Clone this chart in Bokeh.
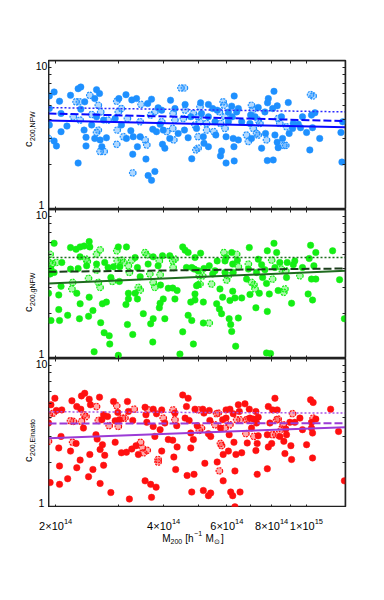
import math
from bokeh.plotting import figure
from bokeh.layouts import column, row
from bokeh.models import FixedTicker, LogAxis, Range1d
from bokeh.core.properties import value
from bokeh.embed import file_html
from bokeh.resources import INLINE

# ---------------- data (mass in units of 1e14 h^-1 Msun, concentration) ----------------
MASS_UNIT = 1e14
x_range_mass = [1.91, 12.85]
y_range_c = [1, 10]
x_major = [2, 4, 6, 8, 10]
x_minor = [3, 5, 7, 9]
x_tick_main = ["2×10", "4×10", "6×10", "8×10", "1×10"]
x_tick_sup = ["14", "14", "14", "14", "15"]
y_major = [1, 10]
y_minor = [2, 3, 4, 5, 6, 7, 8, 9]
y_tick_labels = ["1", "10"]

fit_mass = [1.91, 12.85]
nfw_fit_solid = [3.96, 3.56]
nfw_fit_dashed = [4.41, 3.92]
nfw_fit_dotted = [4.83, 4.52]
gnfw_fit_solid = [3.19, 3.88]
gnfw_fit_dashed = [3.82, 4.02]
gnfw_fit_dotted = [4.76, 4.76]
ein_fit_solid = [2.92, 3.46]
ein_fit_dashed = [3.66, 3.68]
ein_fit_dotted = [4.39, 4.30]

nfw_filled = [
    (1.92, 5.78), (1.98, 6.15), (2.05, 5.33), (1.92, 4.76), (2.07, 4.41), (1.92, 3.69), (2.07, 3.33),
    (1.98, 2.88), (2.01, 2.67), (2.15, 3.63), (2.20, 5.84), (2.31, 6.47), (2.35, 6.64), (2.35, 4.71),
    (2.41, 5.28), (2.40, 3.41), (2.43, 3.05), (2.43, 2.67), (2.31, 2.05), (2.52, 3.69), (2.57, 5.55),
    (2.60, 6.37), (2.65, 6.00), (2.60, 4.19), (2.57, 3.00), (2.66, 2.93), (2.69, 2.64), (2.77, 3.03),
    (2.72, 3.98), (2.93, 4.08), (3.00, 5.55), (3.05, 3.69), (3.14, 5.90), (3.15, 3.00), (3.26, 5.44),
    (3.24, 3.38), (3.29, 3.08), (3.28, 2.35), (3.36, 5.55), (3.38, 2.64), (3.44, 3.08), (3.57, 2.18),
    (3.61, 5.14), (3.70, 5.50), (3.73, 3.45), (3.82, 3.33), (3.62, 1.69), (3.70, 1.57), (3.78, 1.80),
    (3.86, 4.81), (3.95, 4.64), (3.91, 3.73), (3.97, 2.74), (4.03, 2.58), (3.99, 3.41), (4.18, 5.41),
    (4.16, 3.00), (4.30, 4.76), (4.39, 3.24), (4.59, 5.07), (4.57, 3.41), (4.68, 3.03), (4.76, 4.19),
    (4.94, 3.50), (4.79, 2.19),
    (5.10, 4.41), (5.07, 5.20), (5.16, 3.08), (5.18, 2.78), (5.33, 5.07), (5.33, 2.64), (5.33, 4.19),
    (5.48, 4.76), (5.56, 3.88), (5.59, 3.16), (5.64, 4.64), (5.80, 2.47), (5.76, 2.29), (5.97, 3.08),
    (5.97, 2.05), (6.06, 4.52), (6.06, 3.88), (6.19, 4.94), (6.21, 4.19), (6.25, 3.00), (6.29, 5.78),
    (6.28, 2.64), (6.29, 2.12), (6.39, 4.52), (6.46, 4.76), (6.46, 2.93), (6.60, 3.88), (6.96, 3.78),
    (6.99, 4.30), (7.03, 3.00), (7.19, 4.19), (7.34, 4.84), (7.50, 2.58), (7.66, 4.52), (7.69, 3.24),
    (7.79, 5.20), (7.83, 5.55), (7.78, 2.13), (8.05, 4.76), (8.12, 6.21), (8.08, 2.15), (8.17, 3.16),
    (8.29, 4.96), (8.29, 2.83), (8.34, 2.60), (8.52, 4.19), (8.58, 3.00), (8.90, 5.22), (8.95, 3.24),
    (9.19, 3.78), (9.15, 3.50), (9.49, 3.74), (9.63, 3.54), (9.75, 4.19), (10.01, 3.29), (10.22, 2.51),
    (10.33, 4.30), (10.40, 3.54), (10.56, 4.46), (10.89, 3.00), (12.48, 3.29), (12.56, 2.08), (12.62, 3.88),
]
nfw_dithered = [
    (1.91, 3.00), (2.24, 4.19), (2.28, 5.28), (2.33, 5.28), (2.34, 3.98), (2.49, 5.84), (2.52, 4.34),
    (2.63, 5.01), (2.63, 3.41), (2.60, 3.29), (2.66, 2.45), (2.73, 2.45), (2.67, 4.52), (2.80, 3.98),
    (2.96, 5.33), (2.99, 4.52), (2.97, 3.41), (2.96, 2.74), (3.09, 3.08), (3.05, 4.76), (3.17, 4.08),
    (3.28, 1.76), (3.46, 5.07), (3.44, 3.88), (3.55, 2.93), (3.59, 2.71), (3.68, 4.30), (3.78, 4.52),
    (3.95, 3.88), (4.08, 3.33), (4.25, 4.41), (4.24, 3.50), (4.30, 3.98), (4.27, 2.93), (4.47, 6.54),
    (4.57, 6.54), (4.54, 4.08), (4.59, 4.64), (4.84, 4.41), (4.89, 3.69), (4.99, 3.08), (4.92, 2.51),
    (4.99, 2.58),
    (5.05, 4.89), (4.99, 4.19), (5.05, 3.88), (5.27, 3.78), (5.27, 3.41), (5.52, 3.33), (5.72, 4.52),
    (5.76, 3.78), (5.86, 5.28), (5.89, 5.01), (5.93, 4.19), (5.93, 3.50), (6.81, 3.16), (6.89, 2.86),
    (7.03, 5.01), (7.08, 4.64), (7.11, 3.50), (7.26, 3.24), (7.34, 3.16), (7.34, 3.98), (7.42, 3.78),
    (7.74, 2.93), (8.34, 4.08), (8.43, 3.78), (8.65, 2.69), (8.76, 2.69), (8.80, 3.59), (10.27, 5.90),
    (10.44, 5.78),
]

gnfw_filled = [
    (1.98, 5.93), (1.94, 3.98), (1.93, 3.69), (1.98, 3.78), (2.08, 4.41), (2.07, 3.05), (1.91, 2.74),
    (2.04, 2.67), (2.04, 2.13), (1.94, 1.80), (2.05, 1.80), (2.16, 1.95), (2.20, 5.55), (2.28, 5.41),
    (2.34, 5.61), (2.40, 5.69), (2.48, 6.09), (2.49, 5.61), (2.34, 4.81), (2.20, 3.98), (2.31, 4.02),
    (2.29, 2.74), (2.34, 2.33), (2.33, 1.85), (2.44, 4.19), (2.48, 2.58), (2.47, 1.92), (2.54, 2.10),
    (2.56, 1.11), (2.60, 4.30), (2.70, 2.33), (2.77, 2.39), (2.67, 1.74), (2.73, 1.49), (2.82, 1.42),
    (2.83, 1.25), (2.74, 4.41), (2.80, 4.08), (2.85, 3.50), (2.90, 4.13), (2.99, 5.61), (3.02, 4.13),
    (3.01, 3.29), (3.15, 5.61), (3.19, 2.74), (3.19, 2.51), (3.14, 2.30), (2.99, 1.05), (3.28, 1.45),
    (3.17, 1.69), (3.33, 4.76), (3.38, 4.08), (3.33, 2.74), (3.38, 2.51), (3.44, 3.54), (3.51, 2.00),
    (3.62, 4.30), (3.74, 4.81), (3.86, 4.19), (3.92, 3.11), (3.97, 4.89), (3.99, 2.51), (3.91, 2.35),
    (3.89, 2.19), (3.74, 1.85), (3.68, 1.71), (3.73, 1.29), (4.03, 1.85), (4.16, 4.89), (4.12, 2.96),
    (4.24, 2.97), (4.36, 2.86), (4.30, 2.51), (4.44, 1.07), (4.52, 5.61), (4.59, 5.33), (4.68, 5.14),
    (4.63, 4.08), (4.79, 4.08), (4.87, 3.98), (4.89, 4.76), (4.52, 1.51), (4.68, 1.95), (4.79, 1.80),
    (4.84, 1.25), (4.89, 2.71), (4.89, 2.47), (4.76, 2.39), (4.94, 3.08),
    (5.07, 5.09), (4.99, 3.88), (5.18, 4.02), (4.99, 3.13), (5.16, 2.39), (5.16, 1.73), (5.36, 4.19),
    (5.48, 3.69), (5.56, 3.88), (5.64, 4.52), (5.62, 2.33), (5.72, 2.15), (5.80, 2.00), (5.74, 2.93),
    (5.84, 2.58), (5.93, 4.52), (5.93, 3.78), (5.97, 4.76), (6.09, 1.85), (6.15, 1.69), (6.19, 1.52),
    (6.12, 2.45), (6.19, 5.14), (6.23, 4.30), (6.23, 2.83), (6.25, 3.78), (6.32, 2.55), (6.35, 1.21),
    (6.42, 4.57), (6.46, 1.87), (6.60, 2.55), (6.81, 3.41), (6.89, 3.98), (6.93, 5.55), (6.96, 2.69),
    (7.23, 2.19), (7.26, 3.78), (7.34, 4.64), (7.39, 2.74), (7.50, 4.26), (7.55, 3.50), (7.66, 3.94),
    (7.74, 3.19), (7.78, 5.28), (7.88, 2.71), (7.78, 2.07), (7.74, 1.09), (7.94, 1.08), (8.12, 5.93),
    (8.17, 4.08), (8.26, 5.14), (8.34, 2.86), (8.43, 4.41), (8.80, 3.50), (8.84, 4.41), (9.09, 2.35),
    (9.19, 4.26), (9.28, 4.52), (9.75, 4.08), (10.11, 2.71), (10.18, 4.69), (10.27, 5.75), (10.33, 3.41),
    (10.40, 2.47), (10.49, 4.19), (10.62, 5.14), (10.62, 3.41), (11.83, 5.28), (12.37, 3.38), (12.76, 1.85),
]
gnfw_dithered = [
    (1.93, 5.01), (1.92, 4.41), (1.96, 4.34), (2.01, 4.41), (2.23, 3.24), (2.22, 2.93), (2.43, 4.64),
    (2.45, 4.48), (2.47, 3.45), (2.60, 5.01), (2.66, 5.36), (2.63, 3.24), (2.66, 3.00), (2.60, 3.92),
    (2.88, 3.29), (2.96, 5.28), (2.97, 4.52), (3.05, 4.57), (3.10, 4.41), (3.19, 4.19), (3.21, 3.78),
    (3.26, 4.57), (3.40, 3.00), (3.44, 2.88), (3.55, 5.14), (3.59, 4.96), (3.66, 3.69), (3.74, 3.24),
    (3.78, 3.00), (3.89, 4.52), (3.91, 3.65), (4.24, 4.52), (4.30, 4.64), (4.25, 4.08),
    (5.03, 3.59), (5.14, 3.59), (5.05, 3.16), (5.36, 1.73), (5.44, 3.16), (5.89, 5.14), (5.99, 3.36),
    (6.06, 3.59), (6.39, 5.01), (6.46, 4.13), (6.89, 4.30), (7.03, 3.24), (7.14, 3.13), (7.19, 2.93),
    (8.00, 4.57), (8.05, 3.41), (8.52, 3.98), (8.65, 2.78), (8.71, 2.93), (8.76, 3.88), (9.59, 3.59),
]

ein_filled = [
    (1.94, 4.89), (1.99, 5.41), (2.01, 4.48), (2.08, 4.52), (1.91, 3.69), (2.07, 3.00), (2.04, 2.51),
    (2.05, 1.90), (1.93, 1.47), (2.05, 1.43), (2.16, 1.56), (2.22, 5.20), (2.20, 2.39), (2.29, 4.76),
    (2.28, 2.69), (2.29, 1.85), (2.34, 2.08), (2.35, 4.57), (2.36, 5.61), (2.41, 5.84), (2.39, 3.41),
    (2.48, 5.33), (2.50, 4.89), (2.49, 2.27), (2.47, 1.61), (2.54, 1.80), (2.65, 5.50), (2.59, 3.08),
    (2.61, 2.88), (2.66, 2.45), (2.70, 2.64), (2.66, 1.45), (2.72, 1.92), (2.74, 2.24), (2.69, 3.88),
    (2.72, 4.19), (2.79, 4.08), (2.85, 1.26), (2.90, 5.14), (2.93, 3.82), (2.93, 2.74), (2.98, 4.34),
    (3.01, 3.88), (3.05, 2.33), (3.17, 5.14), (3.19, 4.41), (3.21, 1.14), (3.15, 2.35), (3.28, 3.84),
    (3.26, 2.47), (3.35, 2.60), (3.40, 2.27), (3.55, 4.71), (3.57, 4.19), (3.59, 3.73), (3.55, 1.51),
    (3.68, 1.43), (3.70, 1.17), (3.74, 4.57), (3.74, 3.50), (3.78, 3.00), (3.82, 4.26), (3.91, 3.33),
    (3.95, 4.52), (3.95, 2.39), (4.03, 3.69), (3.81, 1.37), (4.12, 2.86), (4.24, 2.83), (4.30, 4.30),
    (4.35, 3.54), (4.36, 2.55), (4.27, 2.18), (4.32, 1.80), (4.52, 5.69), (4.63, 4.76), (4.68, 5.41),
    (4.59, 3.98), (4.71, 3.84), (4.76, 2.51), (4.84, 2.86), (4.76, 3.16), (4.65, 1.64), (4.86, 1.67),
    (4.79, 1.27), (4.89, 4.57), (4.96, 3.54),
    (5.14, 4.57), (5.18, 4.30), (5.21, 1.98), (5.36, 4.48), (5.33, 3.13), (5.38, 3.84), (5.41, 3.00),
    (5.16, 1.30), (5.33, 1.20), (5.41, 1.25), (5.64, 2.02), (5.76, 3.41), (5.84, 3.88), (5.86, 2.27),
    (5.86, 1.51), (5.97, 4.52), (5.97, 3.98), (6.06, 2.39), (6.12, 4.57), (6.09, 3.08), (6.15, 1.27),
    (6.23, 1.20), (6.25, 4.26), (6.28, 2.74), (6.32, 1.76), (6.32, 1.01), (6.36, 2.27), (6.46, 4.89),
    (6.50, 4.41), (6.53, 1.27), (6.60, 2.33), (6.74, 4.96), (6.84, 2.71), (6.93, 4.57), (6.96, 3.98),
    (7.03, 3.41), (7.11, 3.92), (7.23, 4.41), (7.26, 3.69), (7.23, 2.41), (7.29, 2.69), (7.34, 3.03),
    (7.29, 1.67), (7.34, 4.04), (7.78, 1.82), (7.83, 4.76), (7.83, 2.55), (7.78, 3.08), (7.91, 3.69),
    (8.00, 2.69), (8.05, 4.52), (8.17, 5.41), (8.29, 4.52), (8.43, 3.00), (8.65, 2.78), (8.71, 2.30),
    (8.76, 3.36), (8.80, 3.08), (8.99, 3.73), (9.05, 2.60), (9.09, 2.10), (9.28, 3.73), (9.59, 3.98),
    (9.75, 3.33), (10.01, 2.64), (10.27, 5.28), (10.44, 5.07), (10.33, 3.73), (10.33, 3.41), (10.40, 3.16),
    (10.40, 2.15), (10.62, 3.92), (11.68, 4.57), (12.29, 3.24), (12.76, 1.51),
]
ein_dithered = [
    (1.92, 4.19), (1.97, 4.30), (1.91, 2.78), (2.20, 3.82), (2.24, 3.78), (2.23, 2.74), (2.40, 4.19),
    (2.43, 4.08), (2.36, 3.78), (2.60, 4.76), (2.63, 3.84), (2.82, 3.54), (2.96, 4.81), (2.99, 3.50),
    (3.07, 3.98), (3.12, 3.98), (3.31, 4.57), (3.45, 2.74), (3.49, 2.51), (3.52, 2.33), (3.60, 2.42),
    (3.62, 4.52), (3.86, 2.10), (3.86, 2.02), (3.99, 3.98), (4.25, 4.52), (4.30, 3.88),
    (4.99, 4.52), (5.10, 3.41), (5.03, 3.29), (5.56, 3.59), (5.62, 4.26), (5.72, 1.76), (5.68, 4.30),
    (5.76, 2.69), (5.80, 2.60), (5.93, 3.41), (6.12, 3.59), (6.39, 3.88), (6.53, 3.88), (6.78, 3.13),
    (6.81, 3.88), (6.89, 3.92), (7.14, 3.00), (8.05, 3.08), (8.22, 3.08), (8.26, 3.88), (8.34, 3.92),
    (8.52, 3.36), (8.62, 3.59), (9.15, 4.26), (10.44, 3.98),
]

# ---------------- styling / layout ----------------
FONT = "Liberation Sans"
LEFT = 48          # width of the label strip left of each panel
FRAME_W = 297
RIGHT = 30
FRAME_H = 149
TOP1 = 60
BOTTOM_H = 46
AXIS_COLOR = "#222222"

# Helvetica/Arial-style advance widths (em) for placing sub/superscript pieces
CW = {"0": .556, "1": .556, "2": .556, "3": .556, "4": .556, "5": .556, "6": .556, "7": .556,
      "8": .556, "9": .556, "×": .584, ",": .278, " ": .278, "[": .278, "]": .278, "M": .833,
      "h": .556, "−": .584, "c": .5, "N": .722, "F": .611, "W": .944, "g": .556, "E": .667,
      "i": .222, "n": .556, "a": .556, "s": .5, "t": .278, "o": .556, "⊙": .84}


def tw(s, size):
    return sum(CW.get(ch, .556) for ch in s) * size


def blank_fig(width, height, xr, yr, top=0, x_log=False):
    f = figure(width=width, height=height, x_range=xr, y_range=yr,
               x_axis_type="log" if x_log else "linear",
               output_backend="svg", toolbar_location=None,
               min_border_left=0, min_border_right=0, min_border_top=top, min_border_bottom=0,
               outline_line_color=None, background_fill_color="white", border_fill_color="white")
    f.axis.visible = False
    f.grid.visible = False
    f.title.visible = False
    return f


def txt(f, x, y, text, size, align="left", baseline="alphabetic", angle=0.0, xo=0.0):
    f.text(x=[x], y=[y], text=[text], angle=angle, text_align=align, text_baseline=baseline,
           x_offset=xo, text_font=value(FONT), text_font_size=value(f"{size}px"), text_color="black")


def style_axis(ax, ticks, minor, tin, minin, loc):
    ax.fixed_location = loc
    ax.major_label_text_color = None
    ax.ticker = FixedTicker(ticks=ticks, minor_ticks=minor)
    ax.major_tick_in = tin
    ax.major_tick_out = 0
    ax.minor_tick_in = minin
    ax.minor_tick_out = 0
    ax.axis_line_color = AXIS_COLOR
    ax.axis_line_width = 1.5
    ax.major_tick_line_color = AXIS_COLOR
    ax.minor_tick_line_color = AXIS_COLOR


def make_panel(filled, dithered, fits, pcolor, lcolors, top):
    xlo, xhi = [m * MASS_UNIT for m in x_range_mass]
    p = figure(width=FRAME_W + RIGHT, height=FRAME_H + top, x_axis_type="log", y_axis_type="log",
               x_range=Range1d(xlo, xhi), y_range=Range1d(*y_range_c),
               output_backend="svg", toolbar_location=None,
               min_border_left=0, min_border_right=RIGHT,
               min_border_top=top, min_border_bottom=0,
               background_fill_color="white", border_fill_color="white",
               outline_line_color=AXIS_COLOR, outline_line_width=1.5)
    p.title.visible = False
    p.xgrid.visible = False
    p.ygrid.visible = False
    xt = [v * MASS_UNIT for v in x_major]
    xm = [v * MASS_UNIT for v in x_minor]
    top_ax = LogAxis()
    right_ax = LogAxis()
    p.add_layout(top_ax, "above")
    p.add_layout(right_ax, "right")
    style_axis(p.below[0], xt, xm, 3, 3, y_range_c[0])
    style_axis(top_ax, xt, xm, 3, 3, y_range_c[1])
    style_axis(p.left[0], y_major, y_minor, 6, 3, xlo)
    style_axis(right_ax, y_major, y_minor, 6, 3, xhi)

    fm, fc = zip(*filled)
    dm, dc = zip(*dithered)
    p.scatter([m * MASS_UNIT for m in dm], dc, size=6.5, marker="circle",
              fill_color=pcolor, fill_alpha=0.35, line_color=pcolor, line_width=1.2, line_dash="2 1")
    p.scatter([m * MASS_UNIT for m in fm], fc, size=6.5, marker="circle",
              fill_color=pcolor, line_color=pcolor, line_width=0.5)

    fx = [m * MASS_UNIT for m in fit_mass]
    for vals, dash, col, lw in zip(fits, ["solid", "8 3", "2 2"], lcolors, [2, 2, 1.5]):
        p.line(fx, vals, line_color=col, line_width=lw, line_dash=dash)
    return p


def label_strip(top, sub_text, label_start):
    s = blank_fig(LEFT, FRAME_H + top, Range1d(0, LEFT), Range1d(0, FRAME_H), top=top)
    txt(s, LEFT - 7, FRAME_H - 1, y_tick_labels[1], 10.5, align="center", baseline="top")
    txt(s, LEFT - 7, 1, y_tick_labels[0], 10.5, align="center", baseline="bottom")
    txt(s, 27.5, label_start, "c", 11, angle=math.pi / 2)
    txt(s, 31.5, label_start + tw("c", 11) + 0.5, sub_text, 7, angle=math.pi / 2)
    return s


p1 = make_panel(nfw_filled, nfw_dithered, [nfw_fit_solid, nfw_fit_dashed, nfw_fit_dotted],
                "#1e90ff", ["#0a0aff", "#0a0aff", "#2a2aff"], TOP1)
p2 = make_panel(gnfw_filled, gnfw_dithered, [gnfw_fit_solid, gnfw_fit_dashed, gnfw_fit_dotted],
                "#14ee14", ["#1f6b1f", "#1a3d1a", "#1f6b1f"], 0)
p3 = make_panel(ein_filled, ein_dithered, [ein_fit_solid, ein_fit_dashed, ein_fit_dotted],
                "#ff1010", ["#9b3bd6", "#9b3bd6", "#a855e6"], 0)

s1 = label_strip(TOP1, "200,NFW", 62.5)
s2 = label_strip(0, "200,gNFW", 46.5)
s3 = label_strip(0, "200,Einasto", 45.5)

# bottom strip: same log mapping as the panels, widened to cover the side margins
TOTAL_W = LEFT + FRAME_W + RIGHT
xlo, xhi = [m * MASS_UNIT for m in x_range_mass]
span = math.log10(xhi / xlo)
ext = Range1d(xlo * 10 ** (-span * LEFT / FRAME_W), xhi * 10 ** (span * RIGHT / FRAME_W))
bot = blank_fig(TOTAL_W, BOTTOM_H, ext, Range1d(0, BOTTOM_H), x_log=True)

MAIN, SUP = 11, 7.5
for v, m_txt, s_txt in zip(x_major, x_tick_main, x_tick_sup):
    total = tw(m_txt, MAIN) + tw(s_txt, SUP)
    x0 = -total / 2
    txt(bot, v * MASS_UNIT, BOTTOM_H - 18, m_txt, MAIN, xo=x0)
    txt(bot, v * MASS_UNIT, BOTTOM_H - 14, s_txt, SUP, xo=x0 + tw(m_txt, MAIN))

# x axis title: M_200 [h^-1 M_sun]   (text, size, baseline shift, gap before)
pieces = [("M", 10, 0, 0), ("200", 7, -2.5, 0), ("[h", 10, 0, 3), ("−1", 7, 5.5, 0.5),
          ("M", 10, 0, 3.5), ("⊙", 7, -2.5, 0.3), ("]", 10, 0, 1)]
total = sum(tw(t, s) + g for t, s, _, g in pieces)
xc = math.sqrt(xlo * xhi)
cur = -total / 2 - 4
BASE = BOTTOM_H - 31
for t, s, dy, g in pieces:
    cur += g
    txt(bot, xc, BASE + dy, t, s, xo=cur)
    cur += tw(t, s)

layout = column(row(s1, p1, spacing=0), row(s2, p2, spacing=0), row(s3, p3, spacing=0), bot, spacing=0)
open("out.html", "w").write(file_html(layout, INLINE))
